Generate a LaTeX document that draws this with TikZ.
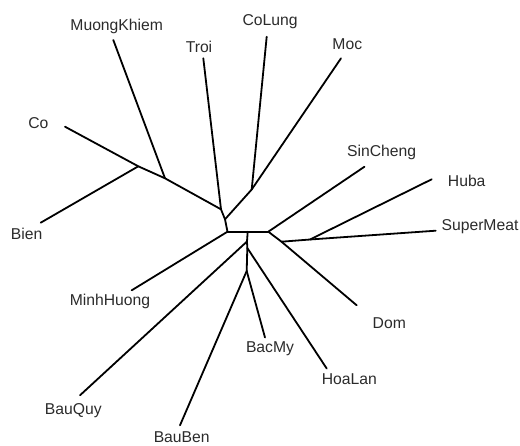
\documentclass[tikz,border=0pt]{standalone}
\usepackage{fontspec}
\setmainfont{Liberation Sans}
\definecolor{labelgray}{HTML}{2B2B2B}
\begin{document}
\begin{tikzpicture}[x=1pt,y=-1pt,
  branch/.style={line width=1.8pt,black,line cap=round,line join=round},
  taxon/.style={inner sep=0pt,text=labelgray,font=\fontsize{15.7}{18}\selectfont}]
\useasboundingbox (0,0) rectangle (520,445);
% internal nodes of the tree
\coordinate (A) at (227.5,231.7);
\coordinate (M) at (247.7,231.7);
\coordinate (B) at (268.3,231.7);
\coordinate (C) at (281.5,241.7);
\coordinate (D) at (310,239.5);
\coordinate (E) at (221,209.3);
\coordinate (F) at (225,219.3);
\coordinate (G) at (251.7,189.5);
\coordinate (H) at (165,178.3);
\coordinate (I) at (138.3,166.3);
\coordinate (J) at (247,241.5);
\coordinate (K) at (247.3,248);
\coordinate (L) at (246.7,271);
% leaf tips
\coordinate (tMuongKhiem) at (113.3,40);
\coordinate (tTroi) at (203.3,58.3);
\coordinate (tCoLung) at (266.7,36.7);
\coordinate (tMoc) at (341,58.3);
\coordinate (tCo) at (65,126.7);
\coordinate (tBien) at (40.7,222.7);
\coordinate (tSinCheng) at (364.5,166.7);
\coordinate (tHuba) at (431.7,179.3);
\coordinate (tSuperMeat) at (435.7,230.7);
\coordinate (tDom) at (356.7,305.3);
\coordinate (tHoaLan) at (326.7,368.5);
\coordinate (tBacMy) at (265,337.5);
\coordinate (tBauBen) at (180,425.3);
\coordinate (tBauQuy) at (80,395.3);
\coordinate (tMinhHuong) at (131.7,290.3);
% labels
\node[taxon] (MuongKhiem) at (116.7,26.7) {MuongKhiem};
\node[taxon] (Troi) at (199,47.3) {Troi};
\node[taxon] (CoLung) at (270,21.7) {CoLung};
\node[taxon] (Moc) at (347.3,44) {Moc};
\node[taxon] (Co) at (38.3,123.3) {Co};
\node[taxon] (Bien) at (26.7,233.7) {Bien};
\node[taxon] (SinCheng) at (381.7,152.7) {SinCheng};
\node[taxon] (Huba) at (466.7,180.7) {Huba};
\node[taxon] (SuperMeat) at (480,227) {SuperMeat};
\node[taxon] (Dom) at (389.3,322.7) {Dom};
\node[taxon] (BacMy) at (270,348.5) {BacMy};
\node[taxon] (HoaLan) at (349.3,378.7) {HoaLan};
\node[taxon] (MinhHuong) at (110,301.3) {MinhHuong};
\node[taxon] (BauQuy) at (73.3,410.3) {BauQuy};
\node[taxon] (BauBen) at (181.7,437) {BauBen};
% branches
\draw[branch] (A) -- (M) -- (B);
\draw[branch] (A) -- (F) -- (E);
\draw[branch] (E) -- (tTroi);
\draw[branch] (E) -- (H) -- (I) -- (tCo);
\draw[branch] (H) -- (tMuongKhiem);
\draw[branch] (I) -- (tBien);
\draw[branch] (F) -- (G) -- (tMoc);
\draw[branch] (G) -- (tCoLung);
\draw[branch] (A) -- (tMinhHuong);
\draw[branch] (M) -- (J) -- (K) -- (L);
\draw[branch] (J) -- (tBauQuy);
\draw[branch] (K) -- (tHoaLan);
\draw[branch] (L) -- (tBauBen);
\draw[branch] (L) -- (tBacMy);
\draw[branch] (B) -- (tSinCheng);
\draw[branch] (B) -- (C) -- (tDom);
\draw[branch] (C) -- (D) -- (tSuperMeat);
\draw[branch] (D) -- (tHuba);
\end{tikzpicture}
\end{document}
